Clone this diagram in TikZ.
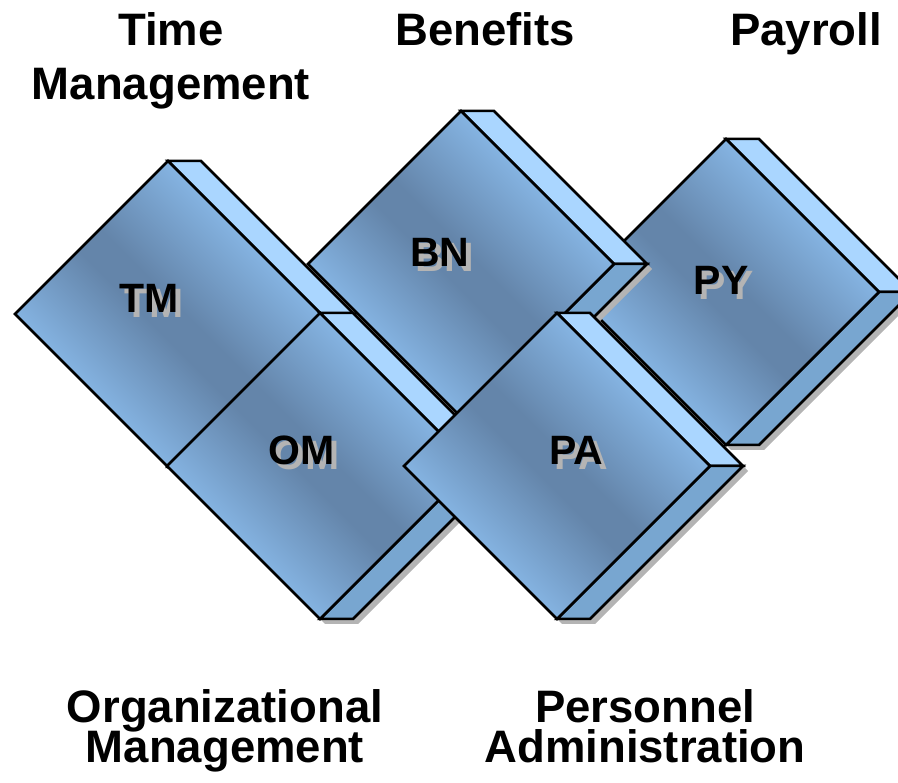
\documentclass[tikz,border=0pt]{standalone}
\usepackage{fontspec}
\setmainfont{Liberation Sans}
\usepackage{tikz}
\usetikzlibrary{shadings,calc}
\definecolor{tilelight}{HTML}{92C6F8}
\definecolor{tiledark}{HTML}{6485AA}
\definecolor{sidetop}{HTML}{AAD6FF}
\definecolor{sidebot}{HTML}{78A6D0}
\definecolor{shadowgray}{HTML}{B4B4B4}
\pgfdeclarehorizontalshading{facegrad}{100bp}{color(0bp)=(tilelight); color(26bp)=(tilelight); color(47bp)=(tiledark); color(52bp)=(tiledark); color(74bp)=(tilelight); color(100bp)=(tilelight)}
\tikzstyle{tileface} = [draw=black, line width=2.5pt, shading=facegrad, shading angle=45]
\tikzstyle{tileside} = [draw=black, line width=2.5pt, line join=miter]
\tikzstyle{tileshadow} = [fill=shadowgray]
\tikzstyle{lbl} = [font=\fontsize{41}{41}\selectfont\bfseries, anchor=base, inner sep=0pt]
\tikzstyle{heading} = [font=\fontsize{45.5}{45.5}\selectfont\bfseries, anchor=base, align=center, inner sep=0pt]

% one module tile: name, centre x, centre y
\newcommand{\modtile}[3]{%
  \coordinate (#1) at (#2,#3);
  \begin{scope}[shift={(#2,#3)}]
    \fill[tileshadow, shift={(5,-5)}] (-153,0) -- (0,153) -- (33,153) -- (186,0) -- (33,-153) -- (0,-153) -- cycle;
    \draw[tileside, fill=sidetop] (0,153) -- (33,153) -- (186,0) -- (153,0) -- cycle;
    \draw[tileside, fill=sidebot] (153,0) -- (186,0) -- (33,-153) -- (0,-153) -- cycle;
    \draw[tileface] (-153,0) -- (0,153) -- (153,0) -- (0,-153) -- cycle;
  \end{scope}
}
% label with grey drop shadow
\newcommand{\modlabel}[4]{%
  \node[lbl, text=shadowgray] at ($(#2,#3)+(5,-5)$) {#4};
  \node[lbl] (#1) at (#2,#3) {#4};
}

\begin{document}
\begin{tikzpicture}[x=1pt, y=1pt]
    \useasboundingbox (0,0) rectangle (898,-783);

    \modtile{tmtile}{168}{-314}
    \modtile{pytile}{726}{-292}
    \modtile{bntile}{461}{-264}
    \modtile{omtile}{320}{-466}
    \modtile{patile}{557}{-466}

    \modlabel{tm}{149}{-313}{TM}
    \modlabel{bn}{440}{-267}{BN}
    \modlabel{py}{721}{-295}{PY}
    \modlabel{om}{302}{-465}{OM}
    \modlabel{pa}{576}{-465}{PA}

    % base anchor sits on the last line
    \node[heading] (time) at (171,-100) {Time\\[9pt]Management};
    \node[heading] (benefits) at (485,-46) {Benefits};
    \node[heading] (payroll) at (806,-46) {Payroll};
    \node[heading] (org) at (225,-762) {Organizational\\[-5.5pt]Management};
    \node[heading] (pers) at (645,-762) {Personnel\\[-5.5pt]Administration};
\end{tikzpicture}
\end{document}
